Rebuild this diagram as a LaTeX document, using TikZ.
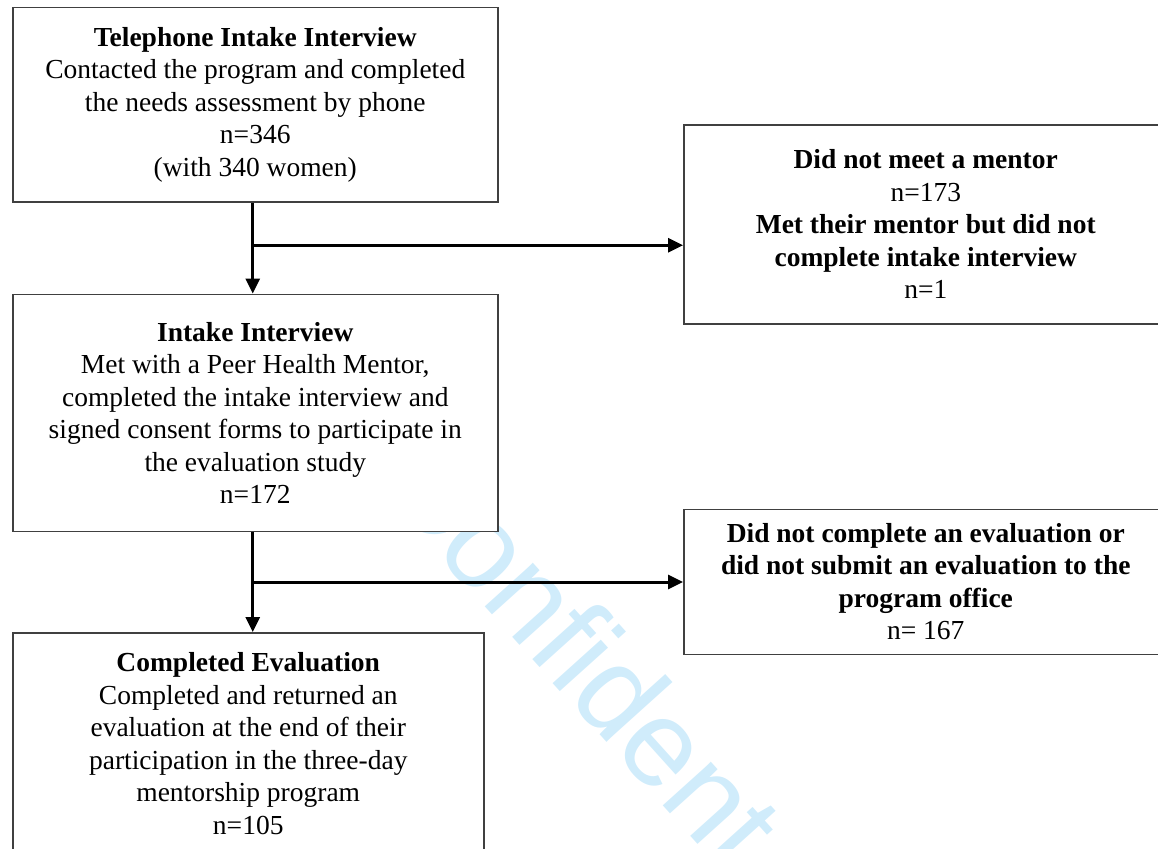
\documentclass[tikz,border=0pt]{standalone}
\usepackage{fontspec}
\setmainfont{Liberation Serif}
\newfontfamily\markfont{Liberation Sans}
\usetikzlibrary{arrows.meta, calc, positioning}

\definecolor{boxgray}{RGB}{64,64,64}
\definecolor{markblue}{RGB}{208,236,251}

\begin{document}
\begin{tikzpicture}[x=1pt, y=-1pt, node distance=10pt,
    flowbox/.style={draw=boxgray, line width=1.5pt, fill=white, align=center,
        inner sep=0pt, font=\fontsize{27.5}{32.5}\selectfont},
    flowarrow/.style={line width=3pt, -{Triangle[length=15pt, width=14pt]}}]
    \useasboundingbox (0,0) rectangle (1158,848);
    \clip (0,0) rectangle (1158,848);

    % watermark behind the boxes
    \node[markblue, font=\markfont\fontsize{123}{123}\selectfont, rotate=-48,
        anchor=base west, inner sep=0pt] (Mark) at (374,484) {Confident};

    \node[flowbox, minimum width=485pt, minimum height=194pt, anchor=north west] (Telephone) at (12,7)
        {\textbf{Telephone Intake Interview}\\ Contacted the program and completed\\
         the needs assessment by phone\\ n=346\\ (with 340 women)};
    \node[flowbox, minimum width=485pt, minimum height=237pt, below=91pt of Telephone] (Intake)
        {\textbf{Intake Interview}\\ Met with a Peer Health Mentor,\\
         completed the intake interview and\\ signed consent forms to participate in\\
         the evaluation study\\ n=172};
    \node[flowbox, minimum width=471pt, minimum height=222pt, below right=100pt and 0pt of Intake.south west] (Evaluation)
        {\textbf{Completed Evaluation}\\ Completed and returned an\\
         evaluation at the end of their\\ participation in the three-day\\
         mentorship program\\ n=105};

    \node[flowbox, minimum width=484pt, minimum height=199pt, anchor=north west] (NoMentor) at (683,124)
        {\textbf{Did not meet a mentor}\\ n=173\\ \textbf{Met their mentor but did not}\\
         \textbf{complete intake interview}\\ n=1};
    \node[flowbox, minimum width=484pt, minimum height=145pt, below=184pt of NoMentor] (NoEvaluation)
        {\textbf{Did not complete an evaluation or}\\ \textbf{did not submit an evaluation to the}\\
         \textbf{program office}\\ n= 167};

    \coordinate (Split1) at ($(Telephone.south)!0.47!(Intake.north)$);
    \coordinate (Split2) at ($(Intake.south)!0.5!(Intake.south |- Evaluation.north)$);

    \draw[flowarrow] ([xshift=-2.5pt]Telephone.south) -- ([xshift=-2.5pt]Intake.north);
    \draw[flowarrow] ([xshift=-2.5pt]Split1) -- (Split1 -| NoMentor.west);
    \draw[flowarrow] ([xshift=-2.5pt]Intake.south) -- ([xshift=-2.5pt]Intake.south |- Evaluation.north);
    \draw[flowarrow] ([xshift=-2.5pt]Split2) -- (Split2 -| NoEvaluation.west);
\end{tikzpicture}
\end{document}
